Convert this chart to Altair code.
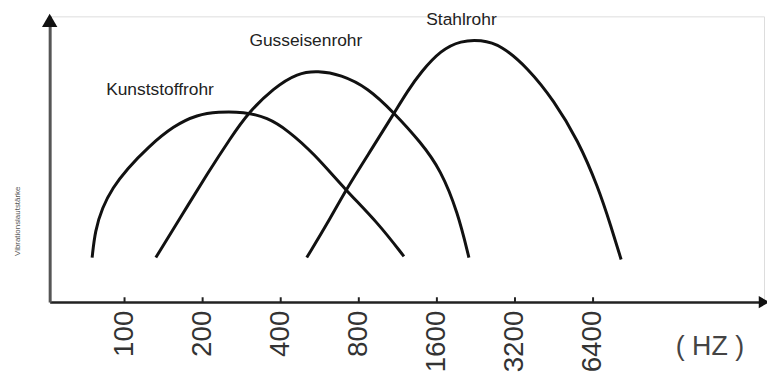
import altair as alt
import pandas as pd

FONT = "Liberation Sans, Arial, sans-serif"

# --- data (frequency in Hz, vibration level 0-100) ---
kunst_f = [75, 77, 82, 90, 102, 123, 155, 191, 229, 288, 356, 426, 536, 712, 947, 1194]
kunst_v = [15.6, 25.0, 33.0, 40.0, 46.5, 54.2, 61.8, 65.6, 66.6, 66.6, 64.6, 60.1, 52.1, 39.2, 27.8, 16.0]

guss_f = [132, 165, 209, 257, 298, 376, 465, 556, 682, 867, 1092, 1388, 1658, 1928, 2126]
guss_v = [15.6, 29.9, 45.1, 57.6, 66.0, 75.0, 80.2, 81.0, 79.6, 75.0, 66.3, 55.9, 46.2, 31.3, 15.6]

stahl_f = [504, 608, 712, 890, 1092, 1236, 1388, 1658, 1980, 2365, 2826, 3593, 4525, 5600, 6690, 7510, 8210]
stahl_v = [15.6, 27.8, 39.2, 53.1, 66.0, 74.0, 80.5, 88.2, 91.5, 91.8, 90.0, 81.9, 70.5, 56.6, 40.3, 26.4, 14.9]

series_names = ["Kunststoffrohr", "Gusseisenrohr", "Stahlrohr"]
label_f = [137, 500, 1990]
label_v = [74.3, 91.3, 98.6]

tick_values = [100, 200, 400, 800, 1600, 3200, 6400]
x_domain = [51.45, 29190]
y_domain = [0, 100]

rows = []
for name, fs, vs in zip(series_names, [kunst_f, guss_f, stahl_f], [kunst_v, guss_v, stahl_v]):
    for f, v in zip(fs, vs):
        rows.append({"series": name, "freq": f, "level": v})
curves = pd.DataFrame(rows)
labels = pd.DataFrame({"series": series_names, "freq": label_f, "level": label_v})
ticks = pd.DataFrame({"freq": tick_values, "y0": [0] * len(tick_values), "y1": [1.7] * len(tick_values)})

xscale = alt.Scale(type="log", base=2, domain=x_domain, nice=False)
yscale = alt.Scale(domain=y_domain, nice=False, zero=False)

x_axis = alt.Axis(
    values=tick_values, format="d", ticks=False, grid=False,
    labelAngle=270, labelAlign="right", labelBaseline="middle",
    labelPadding=8, labelFontSize=28, labelFont=FONT, labelColor="#333",
    labelOverlap=False, labelFlush=False,
    domainColor="#222", domainWidth=2.5,
    title="( HZ )", titleFont=FONT, titleFontSize=27, titleFontWeight="normal",
    titleColor="#444", titleX=665, titleY=45, titleAlign="center", titleBaseline="middle",
)
y_axis = alt.Axis(
    ticks=False, labels=False, grid=False,
    domainColor="#555", domainWidth=3,
    title="Vibrationslautstärke", titleFont=FONT, titleFontSize=8, titleFontWeight="normal",
    titleColor="#555", titleAngle=270, titleX=-32, titleY=206,
    titleAlign="center", titleBaseline="middle",
)

lines = alt.Chart(curves).mark_line(
    interpolate="basis", color="#111", strokeWidth=3
).encode(
    x=alt.X("freq:Q", scale=xscale, axis=x_axis),
    y=alt.Y("level:Q", scale=yscale, axis=y_axis),
    detail="series:N",
    order="freq:Q",
)

tick_marks = alt.Chart(ticks).mark_rule(color="#222", strokeWidth=2).encode(
    x=alt.X("freq:Q", scale=xscale),
    y=alt.Y("y0:Q", scale=yscale),
    y2="y1:Q",
)

texts = alt.Chart(labels).mark_text(
    font=FONT, fontSize=17.5, color="#222", align="center", baseline="middle"
).encode(
    x=alt.X("freq:Q", scale=xscale),
    y=alt.Y("level:Q", scale=yscale),
    text="series:N",
)

arrow_y = alt.Chart(pd.DataFrame({"freq": [x_domain[0]], "level": [y_domain[1]]})).mark_point(
    shape="triangle-up", filled=True, size=240, color="#111", opacity=1, yOffset=4
).encode(
    x=alt.X("freq:Q", scale=xscale),
    y=alt.Y("level:Q", scale=yscale),
)

arrow_x = alt.Chart(pd.DataFrame({"freq": [x_domain[1]], "level": [y_domain[0]]})).mark_point(
    shape="triangle-right", filled=True, size=150, color="#111", opacity=1
).encode(
    x=alt.X("freq:Q", scale=xscale),
    y=alt.Y("level:Q", scale=yscale),
)

chart = alt.layer(lines, tick_marks, texts, arrow_y, arrow_x).properties(
    width=720, height=288,
    autosize=alt.AutoSizeParams(type="none"),
    padding={"left": 42, "top": 7, "right": 3, "bottom": 70},
).configure_view(strokeWidth=0).configure(background="white")

chart.save("out.html", embed_options={"renderer": "svg", "actions": False})
